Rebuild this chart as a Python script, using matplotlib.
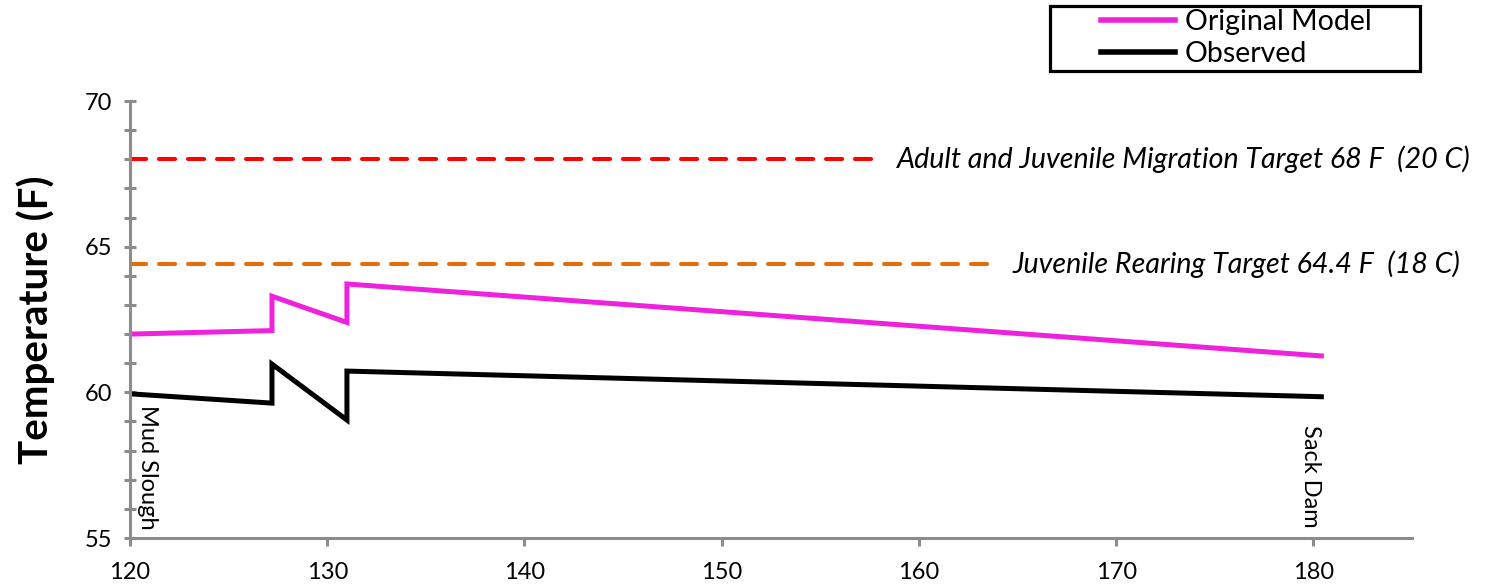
import matplotlib.pyplot as plt
import matplotlib as mpl
from matplotlib.patches import Rectangle

mpl.use('Agg')
plt.rcParams['font.family'] = ['Lato', 'DejaVu Sans']

# river mile and temperature (F)
model_x = [120, 127.2, 127.2, 131.0, 131.0, 180.4]
model_y = [62.0, 62.12, 63.3, 62.4, 63.72, 61.25]
obs_x = [120, 127.2, 127.2, 131.0, 131.0, 180.4]
obs_y = [59.95, 59.63, 60.97, 59.05, 60.73, 59.85]

migration_target = 68.0
migration_end = 157.8
rearing_target = 64.4
rearing_end = 163.6

W, H = 1487, 588
fig = plt.figure(figsize=(W / 100, H / 100), dpi=100)
ax = fig.add_axes([0.0874, 0.085, 0.8622, 0.7432])

grey = '#8c8c8c'
ax.plot(model_x, model_y, color='#ee22dd', lw=3.6, label='Original Model', solid_joinstyle='miter')
ax.plot(obs_x, obs_y, color='black', lw=3.6, label='Observed', solid_joinstyle='miter')

ax.plot([120, migration_end], [migration_target] * 2, color='#ff0000', lw=2.9,
        dashes=(4.0, 3.2), dash_capstyle='round')
ax.plot([120, rearing_end], [rearing_target] * 2, color='#e46c0a', lw=2.9,
        dashes=(4.0, 3.2), dash_capstyle='round')

ax.text(158.87, migration_target, 'Adult and Juvenile Migration Target 68 F  (20 C)',
        style='italic', fontsize=20.6, va='center', ha='left')
ax.text(164.75, rearing_target, 'Juvenile Rearing Target 64.4 F  (18 C)',
        style='italic', fontsize=20.6, va='center', ha='left')

ax.text(120.35, 59.56, 'Mud Slough', rotation=-90, fontsize=17, va='top', ha='left')
ax.text(179.3, 58.88, 'Sack Dam', rotation=-90, fontsize=17, va='top', ha='left')

ax.set_xlim(120, 185)
ax.set_ylim(55, 70)
ax.set_xticks(range(120, 181, 10))
ax.set_yticks([55, 60, 65, 70])
ax.set_yticks(range(55, 71), minor=True)

for s in ['top', 'right']:
    ax.spines[s].set_visible(False)
for s in ['left', 'bottom']:
    ax.spines[s].set_color(grey)
    ax.spines[s].set_linewidth(2.2)

ax.tick_params(axis='x', direction='out', length=6, width=2.2, color=grey,
               labelsize=17, pad=11)
ax.tick_params(axis='y', which='both', direction='inout', length=9, width=2.2,
               color=grey, labelsize=17, pad=8)

ax.set_ylabel('Temperature (F)', fontsize=29, fontweight='bold', labelpad=22)

# legend: frame drawn separately to match the wide box
fig.patches.append(Rectangle((1050 / W, 1 - 71 / H), 370 / W, 65 / H,
                             transform=fig.transFigure, fill=False,
                             ec='black', lw=2.3))
leg = ax.legend(loc='upper left', bbox_to_anchor=(1101 / W, 1 - 9 / H),
                bbox_transform=fig.transFigure, fontsize=20.5, frameon=False,
                handlelength=2.6, handletextpad=0.35, borderpad=0,
                labelspacing=0.22, borderaxespad=0)
for line in leg.get_lines():
    line.set_linewidth(4)

fig.savefig('out.png', dpi=100)
